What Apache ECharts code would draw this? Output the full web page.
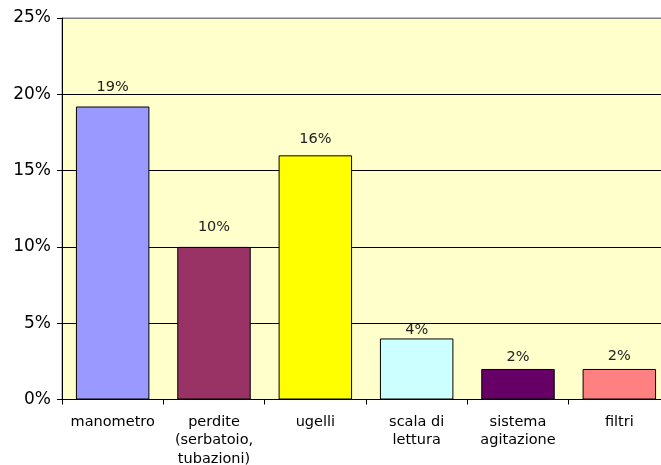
<!DOCTYPE html>
<html>
<head>
<meta charset="utf-8">
<script src="https://cdn.jsdelivr.net/npm/echarts@6/dist/echarts.min.js"></script>
<style>
  html, body { margin: 0; padding: 0; background: #ffffff; overflow: hidden; }
  /* the plot runs slightly past the right edge of the page */
  #chart { width: 671px; height: 465px; }
</style>
</head>
<body>
<div id="chart"></div>
<script>
// Categories of malfunction and their share of the total
const categories = [
  'manometro',
  'perdite\n(serbatoio,\ntubazioni)',
  'ugelli',
  'scala di\nlettura',
  'sistema\nagitazione',
  'filtri'
];
const shares = [0.192, 0.10, 0.16, 0.04, 0.02, 0.02];
const barColors = ['#9999FF', '#993366', '#FFFF00', '#CCFFFF', '#660066', '#FF8080'];
const yTicks = [0, 0.05, 0.10, 0.15, 0.20, 0.25];

const pct = v => Math.round(v * 100) + '%';

// gap between each bar and its value label, in px
const labelGaps = [12, 13, 9.5, 1, 5, 5.5];

const chart = echarts.init(document.getElementById('chart'), null, { renderer: 'canvas' });
chart.setOption({
  animation: false,
  backgroundColor: '#ffffff',
  textStyle: { fontFamily: 'DejaVu Sans' },
  grid: {
    left: 62, top: 18, right: 1, bottom: 65.5,
    outerBoundsMode: 'none', containLabel: false,
    show: true, backgroundColor: '#FFFFCC', borderColor: '#808080', borderWidth: 1
  },
  xAxis: {
    type: 'category',
    data: categories,
    axisLine: { show: true, lineStyle: { color: '#000', width: 1 } },
    axisTick: { show: true, length: 5, alignWithLabel: false, lineStyle: { color: '#000' } },
    axisLabel: {
      interval: 0, margin: 13, color: '#000', fontSize: 14.5, lineHeight: 18.5,
      fontFamily: 'DejaVu Sans'
    }
  },
  yAxis: {
    type: 'value',
    min: yTicks[0],
    max: yTicks[yTicks.length - 1],
    interval: 0.05,
    axisLine: { show: true, lineStyle: { color: '#000', width: 1 } },
    axisTick: { show: true, length: 5, inside: false, lineStyle: { color: '#000' } },
    axisLabel: {
      margin: 11, color: '#000', fontSize: 17, fontFamily: 'DejaVu Sans',
      formatter: v => pct(v)
    },
    splitLine: {
      show: true,
      lineStyle: { color: ['#000', '#000', '#000', '#000', '#000', '#808080'], width: 1 }
    }
  },
  series: [{
    type: 'bar',
    data: shares.map((v, i) => ({
      value: v,
      itemStyle: { color: barColors[i] },
      label: { distance: labelGaps[i] }
    })),
    barWidth: '72.5%',
    itemStyle: { borderColor: '#000', borderWidth: 1 },
    label: {
      show: true, position: 'top',
      color: '#222', fontSize: 14.5, lineHeight: 14, fontFamily: 'DejaVu Sans',
      formatter: p => pct(p.value)
    }
  }]
});
</script>
</body>
</html>
